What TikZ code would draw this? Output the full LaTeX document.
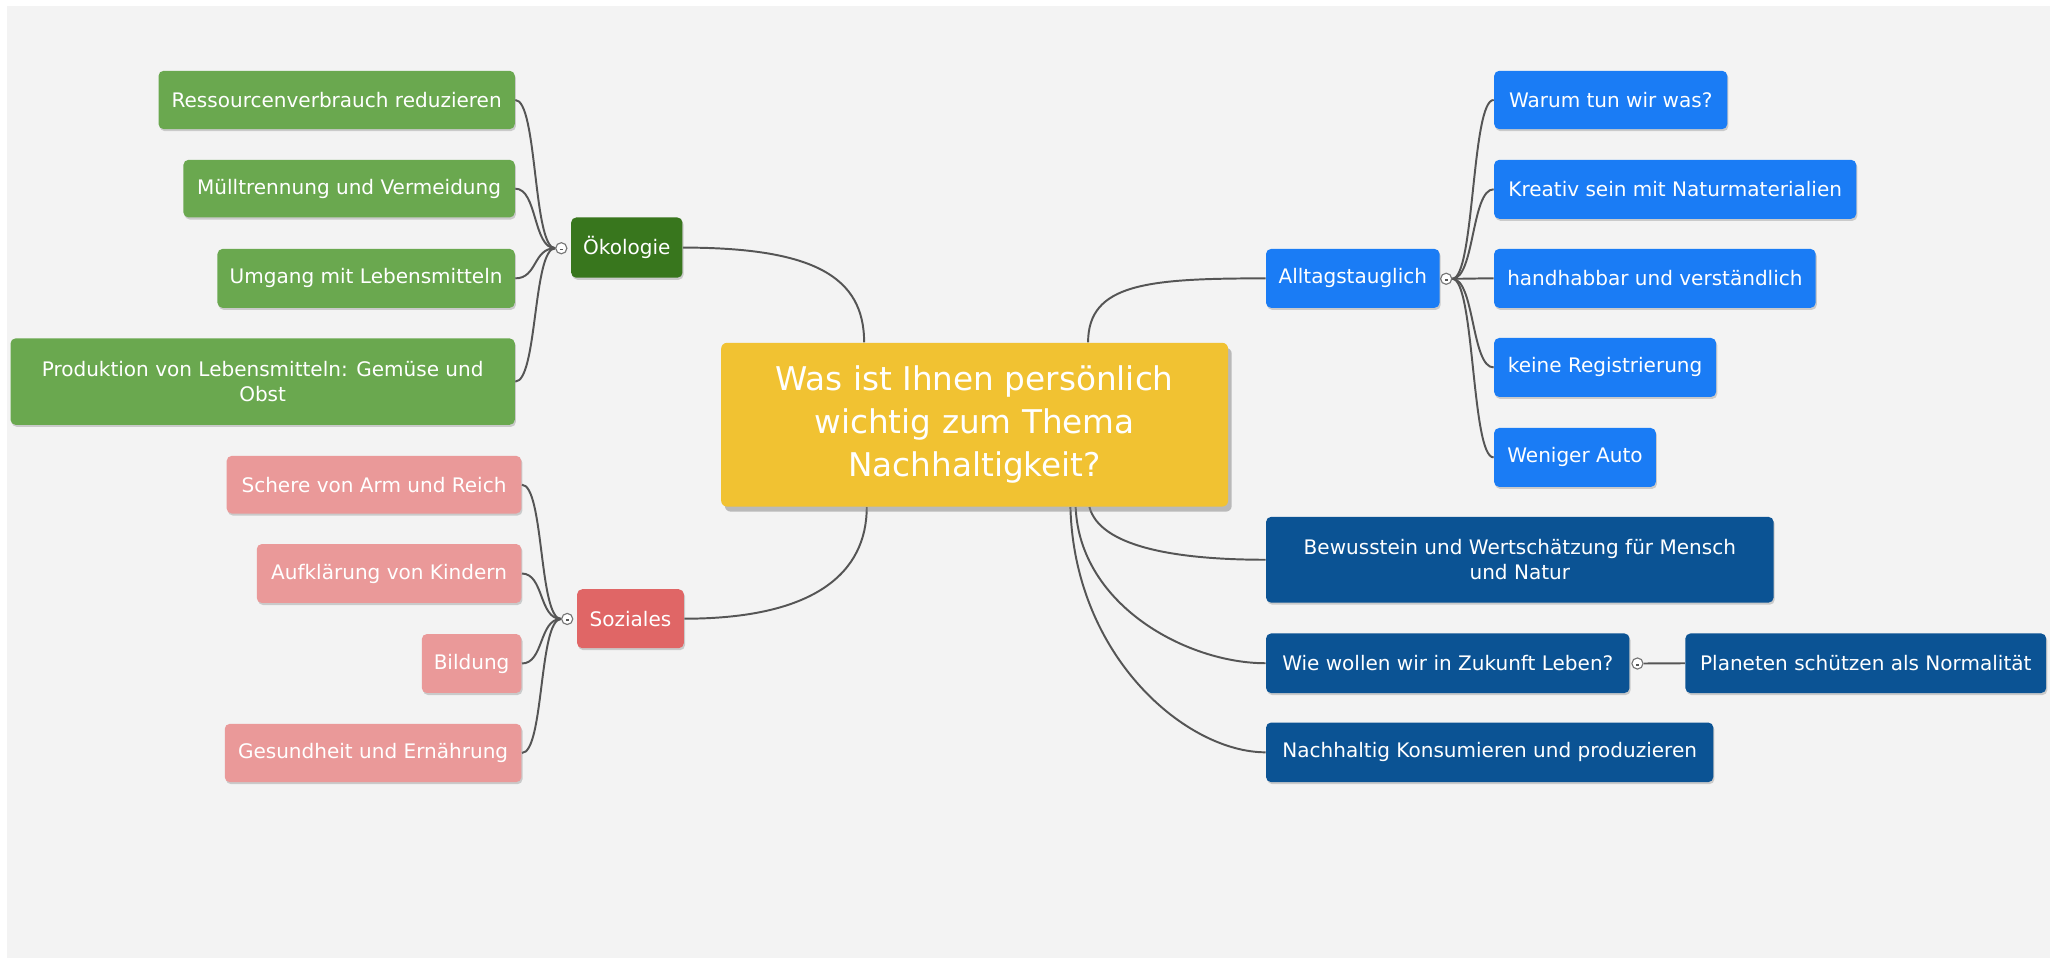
\documentclass[tikz,border=0pt]{standalone}
\usepackage{fontspec}
\setmainfont{DejaVu Sans}
\usetikzlibrary{shadows,calc}
\pgfdeclarelayer{background}
\pgfsetlayers{background,main}
\definecolor{cBg}{HTML}{F3F3F3}
\definecolor{cLeafGreen}{HTML}{6AA84F}
\definecolor{cDarkGreen}{HTML}{38761D}
\definecolor{cLeafPink}{HTML}{EA9999}
\definecolor{cRed}{HTML}{E06666}
\definecolor{cGold}{HTML}{F1C232}
\definecolor{cBright}{HTML}{1A7CF5}
\definecolor{cNavy}{HTML}{0B5394}
\definecolor{cLine}{HTML}{555555}
\begin{document}
\begin{tikzpicture}[x=0.02cm,y=-0.02cm,
  box/.style={rectangle, rounded corners=2.2pt, text=white, inner sep=0pt, align=center,
    font=\fontsize{8.7}{11}\selectfont,
    drop shadow={shadow xshift=0.5pt, shadow yshift=-0.9pt, opacity=0.35}},
  greenleaf/.style={box, fill=cLeafGreen},
  greenmain/.style={box, fill=cDarkGreen},
  pinkleaf/.style={box, fill=cLeafPink},
  redmain/.style={box, fill=cRed},
  brightbox/.style={box, fill=cBright},
  navybox/.style={box, fill=cNavy},
  centerbox/.style={rectangle, rounded corners=2.5pt, fill=cGold, text=white, inner sep=0pt, align=center,
    font=\fontsize{14.2}{18.8}\selectfont,
    drop shadow={shadow xshift=1.6pt, shadow yshift=-2.2pt, opacity=0.5}},
  collapse/.style={circle, draw=cLine!80, fill=white, line width=0.5pt, minimum size=0.17cm, inner sep=0pt,
    path picture={\fill[cLine] ([xshift=-0.7pt,yshift=-0.2pt]path picture bounding box.center) rectangle ([xshift=0.7pt,yshift=-0.9pt]path picture bounding box.center);}},
  conn/.style={draw=cLine, line width=0.85pt}
]
\useasboundingbox (0,0) rectangle (1568,731);

% central
\node[centerbox, minimum width=7.74cm, minimum height=2.5cm] (cen) at (744,324.2)
  {Was ist Ihnen persönlich\\wichtig zum Thema\\Nachhaltigkeit?};

% Oekologie
\node[greenmain, minimum width=1.7cm, minimum height=0.92cm] (oeko) at (478.5,189) {Ökologie};
\node[collapse] (oc) at (428.5,189.5) {};
\node[greenleaf, minimum width=5.44cm, minimum height=0.89cm] (r1) at (257,76.3) {Ressourcenverbrauch reduzieren};
\node[greenleaf, minimum width=5.06cm, minimum height=0.88cm] (r2) at (266.5,144) {Mülltrennung und Vermeidung};
\node[greenleaf, minimum width=4.54cm, minimum height=0.9cm] (r3) at (279.5,212.5) {Umgang mit Lebensmitteln};
\node[greenleaf, minimum width=7.7cm, minimum height=1.32cm] (r4) at (200.5,291.3) {Produktion von Lebensmitteln: Gemüse und\\Obst};

% Soziales
\node[redmain, minimum width=1.63cm, minimum height=0.9cm] (soz) at (481.3,472.3) {Soziales};
\node[collapse] (sc) at (433,472.5) {};
\node[pinkleaf, minimum width=4.5cm, minimum height=0.88cm] (s1) at (285.5,370) {Schere von Arm und Reich};
\node[pinkleaf, minimum width=4.04cm, minimum height=0.9cm] (s2) at (297,437.8) {Aufklärung von Kindern};
\node[pinkleaf, minimum width=1.52cm, minimum height=0.9cm] (s3) at (360,506.5) {Bildung};
\node[pinkleaf, minimum width=4.53cm, minimum height=0.89cm] (s4) at (284.8,574.8) {Gesundheit und Ernährung};

% Alltagstauglich
\node[brightbox, minimum width=2.65cm, minimum height=0.9cm] (alt) at (1032.7,212.5) {Alltagstauglich};
\node[collapse] (ac) at (1104,212.8) {};
\node[brightbox, minimum width=3.56cm, minimum height=0.89cm] (a1) at (1229.6,76.3) {Warum tun wir was?};
\node[brightbox, minimum width=5.53cm, minimum height=0.9cm] (a2) at (1278.8,144.5) {Kreativ sein mit Naturmaterialien};
\node[brightbox, minimum width=4.91cm, minimum height=0.9cm] (a3) at (1263.3,212.5) {handhabbar und verständlich};
\node[brightbox, minimum width=3.39cm, minimum height=0.9cm] (a4) at (1225.3,280.5) {keine Registrierung};
\node[brightbox, minimum width=2.47cm, minimum height=0.9cm] (a5) at (1202.3,349.2) {Weniger Auto};

% navy
\node[navybox, minimum width=7.75cm, minimum height=1.31cm] (bew) at (1160.2,427.3) {Bewusstein und Wertschätzung für Mensch\\und Natur};
\node[navybox, minimum width=5.55cm, minimum height=0.91cm] (wie) at (1105.2,506.3) {Wie wollen wir in Zukunft Leben?};
\node[collapse] (wc) at (1250,506.5) {};
\node[navybox, minimum width=5.51cm, minimum height=0.91cm] (pla) at (1424.3,506.3) {Planeten schützen als Normalität};
\node[navybox, minimum width=6.83cm, minimum height=0.91cm] (nac) at (1137.2,574.3) {Nachhaltig Konsumieren und produzieren};

\begin{pgfonlayer}{background}
\fill[white] (0,0) rectangle (1568,731);
\fill[cBg] (5.3,4.6) rectangle (1565,731);

\coordinate (ct1) at ([xshift=2.19cm]cen.north west);
\coordinate (ct2) at ([xshift=5.61cm]cen.north west);
\coordinate (cb1) at ([xshift=2.23cm]cen.south west);
\coordinate (cb2) at ([xshift=5.34cm]cen.south west);
\coordinate (cb3) at ([xshift=5.42cm]cen.south west);
\coordinate (cb4) at ([xshift=5.63cm]cen.south west);

% main branches
\draw[conn] (oeko.east) .. controls +(100,0) and +(0,-50) .. (ct1);
\draw[conn] (soz.east) .. controls +(100,0) and +(0,50) .. (cb1);
\draw[conn] (ct2) .. controls +(0,-45) and +(-90,0) .. (alt.west);
\draw[conn] (cb4) .. controls +(8,30) and +(-70,0) .. (bew.west);
\draw[conn] (cb3) .. controls +(3,75) and +(-60,0) .. (wie.west);
\draw[conn] (cb2) .. controls +(3,115) and +(-60,0) .. (nac.west);

% sub branches
\foreach \n in {r1,r2,r3,r4}{
  \draw[conn] (\n.east) .. controls +(17,0) and +(-17,0) .. (oc.west);
}
\foreach \n in {s1,s2,s3,s4}{
  \draw[conn] (\n.east) .. controls +(17,0) and +(-17,0) .. (sc.west);
}
\foreach \n in {a1,a2,a3,a4,a5}{
  \draw[conn] (ac.east) .. controls +(17,0) and +(-17,0) .. (\n.west);
}
\draw[conn] (wc.east) -- (pla.west);
\end{pgfonlayer}
\end{tikzpicture}
\end{document}
